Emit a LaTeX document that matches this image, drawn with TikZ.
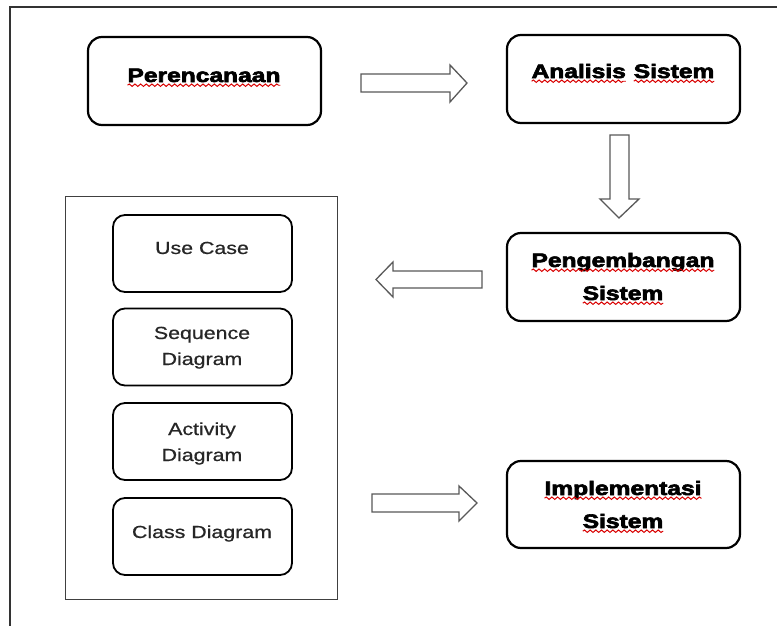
\documentclass[tikz,border=0pt]{standalone}
\usepackage{graphicx}
\usepackage{fontspec}
\setmainfont{Liberation Sans}
\newfontfamily\heavyfont{Liberation Sans Bold}[FakeBold=3]
\newfontfamily\itemfont{Liberation Sans}[FakeBold=0.6]
\usetikzlibrary{decorations.pathmorphing}

% red wavy spell-check underline under a single word
\newcommand\sq[1]{\tikz[baseline=(w.base)]{%
  \node[inner sep=0pt, outer sep=0pt] (w) {#1};
  \draw[squig] ([yshift=-3.2pt]w.base west) -- ([yshift=-3.2pt]w.base east);}}
\newcommand\widetitle[1]{\scalebox{1.26}[1]{#1}}
\newcommand\wideitem[1]{\scalebox{1.22}[1]{#1}}

\tikzset{
  stage/.style={draw=black, line width=2.2pt, rounded corners=14pt,
    minimum width=233pt, inner sep=0pt},
  part/.style={draw=black, line width=1.8pt, rounded corners=12pt,
    minimum width=179pt, minimum height=77pt, inner sep=0pt},
  title/.style={anchor=base, inner sep=0pt,
    font=\heavyfont\fontsize{19.5}{22}\selectfont},
  item/.style={anchor=base, inner sep=0pt, text=black!85,
    font=\itemfont\fontsize{17.5}{20}\selectfont},
  squig/.style={draw=red!85!black, line width=0.9pt, decorate,
    decoration={snake, amplitude=1.2pt, segment length=4.5pt}},
  hollow/.style={draw=black!65, line width=1.3pt, fill=white, line join=miter},
  frame/.style={draw=black!80, line width=1.5pt},
  group/.style={draw=black!75, line width=1pt, inner sep=0pt},
}

\begin{document}
\begin{tikzpicture}[x=1pt, y=-1pt]
\useasboundingbox (0,0) rectangle (777,626);
\fill[white] (0,0) rectangle (777,626);

% page frame (left and top edges)
\draw[frame] (10,626) -- (10,7) -- (777,7);

% main stages
\node[stage, minimum height=88pt] (plan) at (204.5,81) {};
\node[stage, minimum height=88pt] (anal) at (623.5,79) {};
\node[stage, minimum height=88pt] (dev)  at (623.5,277) {};
\node[stage, minimum height=87pt] (impl) at (623.5,504.5) {};

\node[title] (planT) at (204,82) {\widetitle{\sq{Perencanaan}}};
\node[title] (analT) at (623,78) {\widetitle{\sq{Analisis} \sq{Sistem}}};
\node[title] (devT1) at (623,267) {\widetitle{\sq{Pengembangan}}};
\node[title] (devT2) at (623,300) {\widetitle{\sq{Sistem}}};
\node[title] (implT1) at (623,495) {\widetitle{\sq{Implementasi}}};
\node[title] (implT2) at (623,528) {\widetitle{\sq{Sistem}}};

% UML design group
\node[group, minimum width=272pt, minimum height=403pt] (uml) at (201,397.5) {};
\node[part] (usecase) at (202.5,253.5) {};
\node[part] (seq)     at (202.5,347) {};
\node[part] (act)     at (202.5,441.5) {};
\node[part] (cls)     at (202.5,536.5) {};

\node[item] (usecaseT) at (202,254) {\wideitem{Use Case}};
\node[item] (seqT1) at (202,339) {\wideitem{Sequence}};
\node[item] (seqT2) at (202,365) {\wideitem{Diagram}};
\node[item] (actT1) at (202,435) {\wideitem{Activity}};
\node[item] (actT2) at (202,461) {\wideitem{Diagram}};
\node[item] (clsT)  at (202,538) {\wideitem{Class Diagram}};

% hollow block arrows
\draw[hollow] (361,74) -- (450,74) -- (450,65) -- (467,83) -- (450,102)
  -- (450,92) -- (361,92) -- cycle;
\draw[hollow] (610,135) -- (629,135) -- (629,199) -- (639,199) -- (619,218)
  -- (600,199) -- (610,199) -- cycle;
\draw[hollow] (482,271) -- (393,271) -- (393,262) -- (376,279.5) -- (393,297)
  -- (393,288) -- (482,288) -- cycle;
\draw[hollow] (372,494) -- (459,494) -- (459,486) -- (477,503) -- (459,521)
  -- (459,512) -- (372,512) -- cycle;
\end{tikzpicture}
\end{document}
